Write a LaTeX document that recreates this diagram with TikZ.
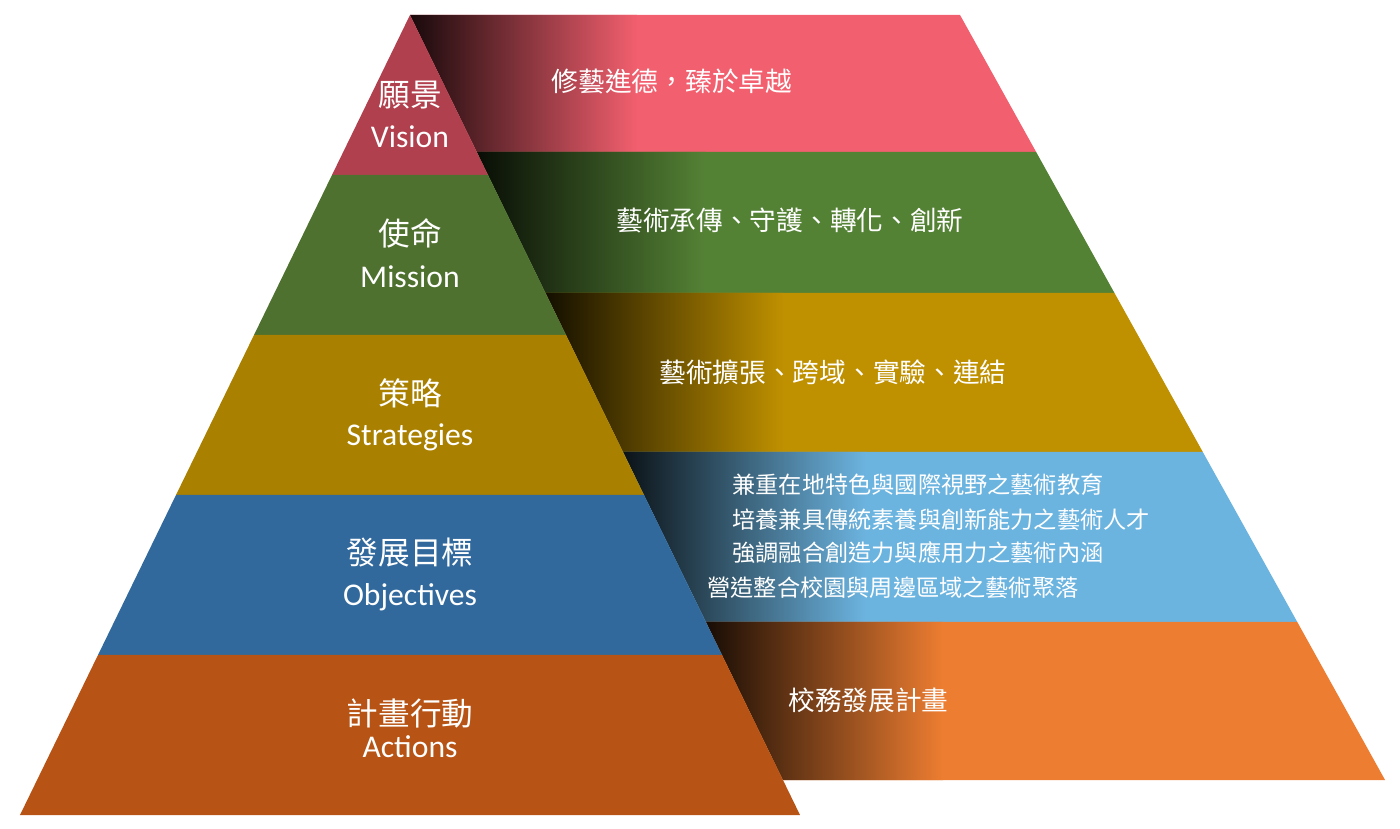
\documentclass[tikz,border=0pt]{standalone}
\usepackage{fontspec}
\setmainfont{Carlito}
\newfontfamily\cjk{Noto Sans CJK TC}
\definecolor{backpink}{RGB}{242,95,110}
\definecolor{backgreen}{RGB}{84,130,53}
\definecolor{backyellow}{RGB}{191,144,0}
\definecolor{backblue}{RGB}{108,180,224}
\definecolor{backorange}{RGB}{237,125,49}
\definecolor{frontpink}{RGB}{236,86,104}
\definecolor{frontgreen}{RGB}{104,150,62}
\definecolor{frontyellow}{RGB}{226,170,0}
\definecolor{frontblue}{RGB}{66,140,210}
\definecolor{frontorange}{RGB}{244,112,28}
\tikzset{
  zhlabel/.style={text=white, font=\cjk\fontsize{9}{11}\selectfont},
  enlabel/.style={text=white, font=\fontsize{9}{11}\selectfont},
  backtext/.style={text=white, font=\cjk\fontsize{7.6}{9}\selectfont},
  goaltext/.style={text=white, font=\cjk\fontsize{6.6}{8}\selectfont, anchor=west}
}
\begin{document}
\begin{tikzpicture}[x=0.1mm, y=-0.1mm]
\useasboundingbox (0,0) rectangle (1400,829);
% back bands with shadow along the pyramid edge
\foreach \ya/\yb/\c in {15/152/backpink, 152/293/backgreen, 293/452/backyellow, 452/622/backblue, 622/780/backorange}
{%
  \pgfmathsetmacro{\la}{410+0.4875*(\ya-15)}
  \pgfmathsetmacro{\lb}{410+0.4875*(\yb-15)}
  \pgfmathsetmacro{\ra}{960+0.5556*(\ya-15)}
  \pgfmathsetmacro{\rb}{960+0.5556*(\yb-15)}
  \fill[\c] (\la,\ya) -- (\ra,\ya) -- (\rb,\yb) -- (\lb,\yb) -- cycle;
  \begin{scope}
    \clip (\la,\ya) -- (\ra,\ya) -- (\rb,\yb) -- (\lb,\yb) -- cycle;
    \shade[left color=black!90!\c, right color=\c] (\la,\ya) rectangle (\lb+160,\yb);
  \end{scope}
};
% front pyramid
\foreach \ya/\yb/\c in {15/175/frontpink, 175/335/frontgreen, 335/495/frontyellow, 495/655/frontblue, 655/815/frontorange}
{%
  \pgfmathsetmacro{\la}{410-0.4875*(\ya-15)}
  \pgfmathsetmacro{\lb}{410-0.4875*(\yb-15)}
  \pgfmathsetmacro{\ra}{410+0.4875*(\ya-15)}
  \pgfmathsetmacro{\rb}{410+0.4875*(\yb-15)}
  \begin{scope}
    \clip (\la,\ya) -- (\ra,\ya) -- (\rb,\yb) -- (\lb,\yb) -- cycle;
    \shade[left color=\c!75!black, middle color=\c, right color=\c!75!black] (\lb,\ya) rectangle (\rb,\yb);
  \end{scope}
};
% front labels
\node[zhlabel] (vzh) at (410,95) {願景};
\node[enlabel] (ven) at (410,137) {Vision};
\node[zhlabel] (mzh) at (410,233) {使命};
\node[enlabel] (men) at (410,277) {Mission};
\node[zhlabel] (szh) at (410,393) {策略};
\node[enlabel] (sen) at (410,437) {Strategies};
\node[zhlabel] (ozh) at (410,553) {發展目標};
\node[enlabel] (oen) at (410,597) {Objectives};
\node[zhlabel] (azh) at (410,713) {計畫行動};
\node[enlabel] (aen) at (410,747) {Actions};
% back texts
\node[backtext] (vision) at (672,82) {修藝進德，臻於卓越};
\node[backtext] (mission) at (790,220) {藝術承傳、守護、轉化、創新};
\node[backtext] (strategy) at (833,372) {藝術擴張、跨域、實驗、連結};
\node[goaltext] (goal1) at (720,485) {兼重在地特色與國際視野之藝術教育};
\node[goaltext] (goal2) at (720,520) {培養兼具傳統素養與創新能力之藝術人才};
\node[goaltext] (goal3) at (720,553) {強調融合創造力與應用力之藝術內涵};
\node[goaltext] (goal4) at (695,588) {營造整合校園與周邊區域之藝術聚落};
\node[backtext, anchor=west] (action) at (776,700) {校務發展計畫};
\end{tikzpicture}
\end{document}
